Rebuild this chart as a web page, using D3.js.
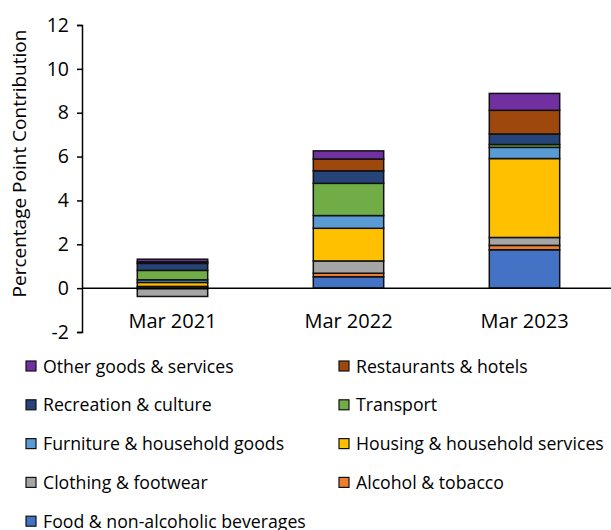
<!DOCTYPE html>
<html>
<head>
<meta charset="utf-8">
<script src="https://cdn.jsdelivr.net/npm/d3@7"></script>
<style>
  html, body { margin: 0; padding: 0; background: #fff; }
  svg { display: block; font-family: "Open Sans", "Noto Sans", sans-serif; }
</style>
</head>
<body>
<svg id="chart" width="611" height="530"></svg>
<script>
// Contribution to annual CPI inflation by category (percentage points)
const periods = ["Mar 2021", "Mar 2022", "Mar 2023"];
const seriesNames = [
  "Food & non-alcoholic beverages",
  "Alcohol & tobacco",
  "Clothing & footwear",
  "Housing & household services",
  "Furniture & household goods",
  "Transport",
  "Recreation & culture",
  "Restaurants & hotels",
  "Other goods & services"
];
const seriesColors = ["#4472C4", "#ED7D31", "#A5A5A5", "#FFC000", "#5B9BD5", "#70AD47", "#264478", "#9E480E", "#7030A0"];
const food        = [-0.03, 0.52, 1.75];
const alcohol     = [0.08, 0.16, 0.20];
const clothing    = [-0.35, 0.56, 0.36];
const housing     = [0.18, 1.49, 3.60];
const furniture   = [0.12, 0.58, 0.51];
const transport   = [0.43, 1.47, 0.13];
const recreation  = [0.32, 0.57, 0.48];
const restaurants = [0.07, 0.54, 1.08];
const other       = [0.12, 0.37, 0.77];
const yTicks = [-2, 0, 2, 4, 6, 8, 10, 12];

const seriesValues = [food, alcohol, clothing, housing, furniture, transport, recreation, restaurants, other];
const rows = periods.map((p, i) => {
  const r = { period: p };
  seriesNames.forEach((n, k) => { r[n] = seriesValues[k][i]; });
  return r;
});

const svg = d3.select("#chart");
const plot = { left: 82, right: 611, top: 25, bottom: 332 };

const x = d3.scaleBand().domain(periods).range([plot.left + 2.5, plot.left + 530.5]).paddingInner(0.6).paddingOuter(0.3);
const y = d3.scaleLinear().domain([-2, 12]).range([plot.bottom, plot.top]);

const stack = d3.stack().keys(seriesNames).offset(d3.stackOffsetDiverging);
const layers = stack(rows);

// Stacked bars
svg.append("g")
  .selectAll("g")
  .data(layers)
  .join("g")
  .attr("fill", (d, i) => seriesColors[i])
  .selectAll("rect")
  .data(d => d)
  .join("rect")
  .attr("x", d => x(d.data.period))
  .attr("width", x.bandwidth())
  .attr("y", d => y(Math.max(d[0], d[1])))
  .attr("height", d => Math.abs(y(d[0]) - y(d[1])))
  .attr("stroke", "#111")
  .attr("stroke-width", 1.5);

// Y axis
const yAxis = svg.append("g")
  .attr("transform", `translate(${plot.left},0)`)
  .call(d3.axisLeft(y).tickValues(yTicks).tickSize(5).tickPadding(8).tickFormat(d => String(d)));
yAxis.select(".domain").attr("stroke", "#000").attr("stroke-width", 1.5);
yAxis.selectAll(".tick line").attr("stroke", "#000").attr("stroke-width", 1.5);
yAxis.selectAll(".tick text")
  .attr("font-size", 19.5).attr("fill", "#000")
  .attr("font-family", "'Open Sans', sans-serif");

// Zero line
svg.append("line")
  .attr("x1", plot.left).attr("x2", plot.right)
  .attr("y1", y(0)).attr("y2", y(0))
  .attr("stroke", "#000").attr("stroke-width", 1.5);

// Category labels
svg.append("g")
  .selectAll("text")
  .data(periods)
  .join("text")
  .attr("x", d => x(d) + x.bandwidth() / 2)
  .attr("y", 328)
  .attr("text-anchor", "middle")
  .attr("font-size", 20)
  .text(d => d);

// Axis title
svg.append("text")
  .attr("transform", "translate(26,163.5) rotate(-90)")
  .attr("text-anchor", "middle")
  .attr("font-size", 19)
  .text("Percentage Point Contribution");

// Legend: reversed series order, two columns
const legendOrder = seriesNames.map((n, i) => i).reverse();
const legend = svg.append("g")
  .selectAll("g")
  .data(legendOrder)
  .join("g")
  .attr("transform", (d, j) => `translate(${j % 2 === 0 ? 26 : 339},${366 + Math.floor(j / 2) * 38.8})`);
legend.append("rect")
  .attr("x", 0).attr("y", -5).attr("width", 10).attr("height", 10)
  .attr("fill", d => seriesColors[d])
  .attr("stroke", "#111").attr("stroke-width", 1.2);
legend.append("text")
  .attr("x", 17).attr("y", 6.5)
  .attr("font-size", 17.7)
  .text(d => seriesNames[d]);
</script>
</body>
</html>
